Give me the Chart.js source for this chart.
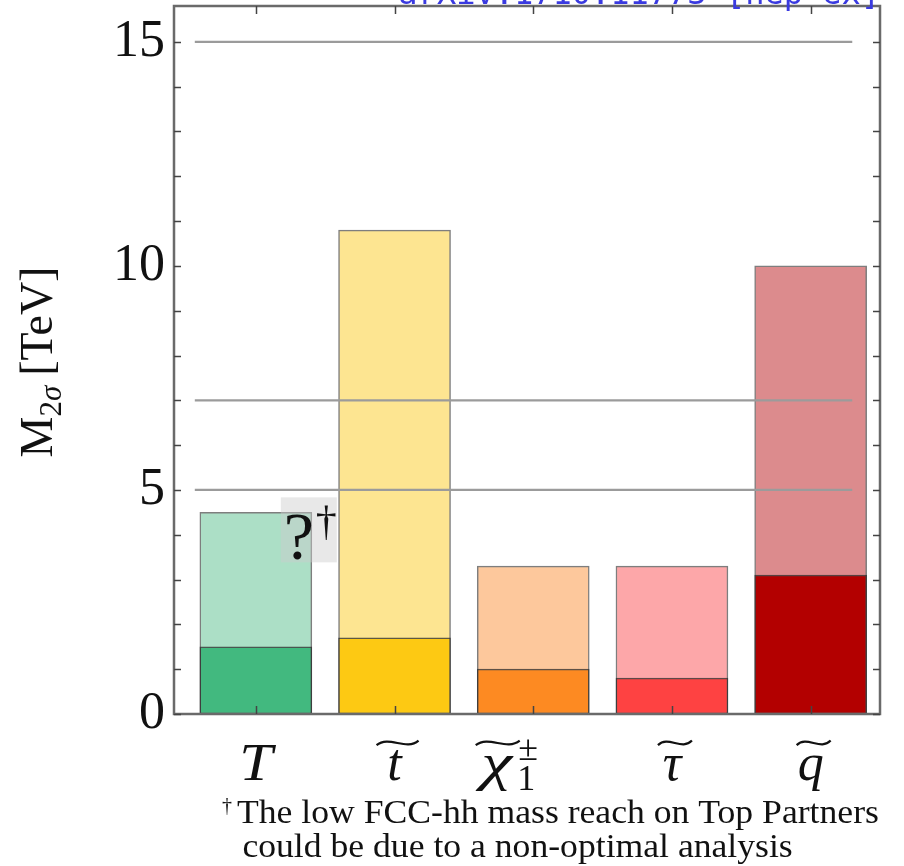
<!DOCTYPE html>
<html>
<head>
<meta charset="utf-8">
<script src="https://cdn.jsdelivr.net/npm/chart.js@4.4.0/dist/chart.umd.min.js"></script>
<style>
  html, body { margin: 0; padding: 0; background: #fff; }
  #wrap { width: 904px; height: 866px; }
</style>
</head>
<body>
<div id="wrap"><canvas id="reachChart" width="904" height="866"></canvas></div>
<script>
// particles on the x axis (tilde = superpartner)
const particles = ["T", "t", "χ", "τ", "q"];
const hasTilde = [false, true, true, true, true];

// 2 sigma mass reach in TeV: lower (dark) and upper (light) part of each bar
const reachLow = [1.5, 1.7, 1.0, 0.8, 3.1];
const reachHigh = [4.5, 10.8, 3.3, 3.3, 10.0];

// horizontal reference levels in TeV and their x extent (in category units)
const refLevels = [15, 7, 5];
const refFrom = -0.44;
const refTo = 4.3;

const yTicks = [0, 5, 10, 15];
const yMinorStep = 1;

const darkColors = ["#42b97f", "#fdc913", "#fd8a22", "#fe4242", "#b30000"];
const lightColors = ["#acdfc6", "#fde591", "#fdc89c", "#fda7a9", "#dc8b8d"];

const serif = "'Liberation Serif', 'Times New Roman', serif";

// wide tilde accent over a symbol
function drawTilde(ctx, cx, y, w, h) {
  const x0 = cx - w / 2;
  ctx.save();
  ctx.beginPath();
  ctx.moveTo(x0, y + h * 0.45);
  ctx.bezierCurveTo(x0 + w * 0.3, y - h * 1.0, x0 + w * 0.7, y + h * 1.3, x0 + w, y - h * 0.2);
  ctx.lineWidth = 2.2;
  ctx.strokeStyle = "#111";
  ctx.stroke();
  ctx.restore();
}

const framePlugin = {
  id: "frame",
  afterDatasetsDraw(chart) {
    const { ctx, chartArea: a, scales } = chart;
    const x = scales.x, y = scales.y;
    ctx.save();

    // "?" note box on the top-partner bar
    const bx = x.getPixelForValue(0) + 25;
    const by = y.getPixelForValue(reachHigh[0]) - 15;
    ctx.fillStyle = "rgba(205,205,205,0.45)";
    ctx.fillRect(bx, by, 56, 65);
    ctx.fillStyle = "#111";
    ctx.font = "68px " + serif;
    ctx.textBaseline = "alphabetic";
    ctx.textAlign = "left";
    ctx.fillText("?", bx + 3, by + 62);
    ctx.font = "42px " + serif;
    ctx.fillText("†", bx + 35, by + 38);

    // frame
    ctx.strokeStyle = "#6a6a6a";
    ctx.lineWidth = 2.5;
    ctx.strokeRect(a.left, a.top, a.right - a.left, a.bottom - a.top);

    // minor y ticks on both sides, pointing inwards
    ctx.strokeStyle = "#444";
    ctx.lineWidth = 1.5;
    ctx.beginPath();
    for (let v = 0; v <= y.max; v += yMinorStep) {
      const py = Math.round(y.getPixelForValue(v)) + 0.5;
      ctx.moveTo(a.left, py); ctx.lineTo(a.left + 7, py);
      ctx.moveTo(a.right, py); ctx.lineTo(a.right - 7, py);
    }
    // category ticks on top and bottom
    particles.forEach((p, i) => {
      const px = Math.round(x.getPixelForValue(i)) + 0.5;
      ctx.moveTo(px, a.bottom); ctx.lineTo(px, a.bottom - 8);
      ctx.moveTo(px, a.top); ctx.lineTo(px, a.top + 8);
    });
    ctx.stroke();
    ctx.restore();
  },
  afterDraw(chart) {
    const { ctx, chartArea: a, scales } = chart;
    const x = scales.x;
    ctx.save();
    ctx.fillStyle = "#111";
    ctx.textBaseline = "alphabetic";

    // category labels
    const base = 780;
    particles.forEach((p, i) => {
      const cx = x.getPixelForValue(i);
      ctx.font = "italic 52px " + serif;
      if (p === "χ") {
        const w = ctx.measureText(p).width;
        const left = cx - 52;
        ctx.save();
        ctx.translate(left, base);
        ctx.scale(1.35, 1);
        ctx.textAlign = "left";
        ctx.fillText(p, 0, 0);
        ctx.restore();
        drawTilde(ctx, left + w * 0.72, base - 38, 44, 7);
        ctx.font = "36px " + serif;
        ctx.textAlign = "left";
        ctx.fillText("±", left + w * 1.35 + 6, base - 20);
        ctx.fillText("1", left + w * 1.35 + 5, base + 10);
      } else {
        ctx.save();
        ctx.translate(cx, base);
        if (p === "T") ctx.scale(1.15, 1);
        ctx.textAlign = "center";
        ctx.fillText(p, 0, 0);
        ctx.restore();
        if (hasTilde[i]) {
          const tw = p === "t" ? 42 : 34;
          drawTilde(ctx, cx + 3, base - 38, tw, 7);
        }
      }
    });

    // y axis title: M_{2σ} [TeV]
    ctx.save();
    ctx.translate(52, 362);
    ctx.rotate(-Math.PI / 2);
    const parts = [
      { t: "M", f: "46px " + serif, dy: 0, gap: 0 },
      { t: "2", f: "31px " + serif, dy: 9, gap: 0 },
      { t: "σ", f: "italic 31px " + serif, dy: 9, gap: 10 },
      { t: "[TeV]", f: "46px " + serif, dy: 0, gap: 0 }
    ];
    let total = 0;
    parts.forEach(q => { ctx.font = q.f; q.w = ctx.measureText(q.t).width; total += q.w + q.gap; });
    let lx = -total / 2;
    ctx.textAlign = "left";
    parts.forEach(q => {
      ctx.font = q.f;
      ctx.fillText(q.t, lx, q.dy);
      lx += q.w + q.gap;
    });
    ctx.restore();

    // footnote
    ctx.textAlign = "left";
    ctx.font = "20px " + serif;
    ctx.fillText("†", 222, 812);
    ctx.save();
    ctx.translate(237, 823);
    ctx.scale(1.08, 1);
    ctx.font = "33px " + serif;
    ctx.fillText("The low FCC-hh mass reach on Top Partners", 0, 0);
    ctx.fillText("could be due to a non-optimal analysis", 5, 34);
    ctx.restore();

    // reference tag along the top edge
    ctx.fillStyle = "#3a3ae0";
    ctx.font = "32px 'DejaVu Sans Mono', monospace";
    ctx.textAlign = "right";
    ctx.fillText("arXiv:1710.11773 [hep-ex]", a.right, 4);
    ctx.restore();
  }
};

const xs = particles.map((p, i) => i);

const refDatasets = refLevels.map(v => ({
  type: "line",
  data: [{ x: refFrom, y: v }, { x: refTo, y: v }],
  borderColor: "#9b9b9b",
  borderWidth: 2.2,
  pointRadius: 0,
  order: 0
}));

const chart = new Chart(document.getElementById("reachChart").getContext("2d"), {
  type: "bar",
  data: {
    datasets: [
      ...refDatasets,
      {
        type: "bar",
        data: xs.map(i => ({ x: i, y: reachLow[i] })),
        backgroundColor: darkColors,
        borderColor: "rgba(40,40,40,0.75)",
        borderWidth: 1.5,
        borderSkipped: false,
        order: 1
      },
      {
        type: "bar",
        data: xs.map(i => ({ x: i, y: reachHigh[i] })),
        backgroundColor: lightColors,
        borderColor: "rgba(40,40,40,0.6)",
        borderWidth: 1.5,
        borderSkipped: false,
        order: 2
      }
    ]
  },
  options: {
    responsive: false,
    animation: false,
    layout: { padding: { top: 6, right: 24, left: 0, bottom: 0 } },
    datasets: { bar: { grouped: false, barThickness: 112 } },
    plugins: { legend: { display: false }, tooltip: { enabled: false } },
    scales: {
      x: {
        type: "linear",
        min: -0.59,
        max: 4.5,
        offset: false,
        grid: { display: false, drawTicks: false, offset: false },
        border: { display: false },
        ticks: { display: false },
        afterFit(s) { s.height = 152; s.paddingLeft = 0; s.paddingRight = 0; }
      },
      y: {
        min: 0,
        max: 15.8,
        grid: { display: false, drawTicks: false },
        border: { display: false },
        afterBuildTicks(s) { s.ticks = yTicks.map(v => ({ value: v })); },
        ticks: {
          font: { family: serif, size: 52 },
          color: "#111",
          padding: 9
        },
        afterFit(s) { s.width = 174; s.paddingTop = 0; s.paddingBottom = 0; }
      }
    }
  },
  plugins: [framePlugin]
});
</script>
</body>
</html>
